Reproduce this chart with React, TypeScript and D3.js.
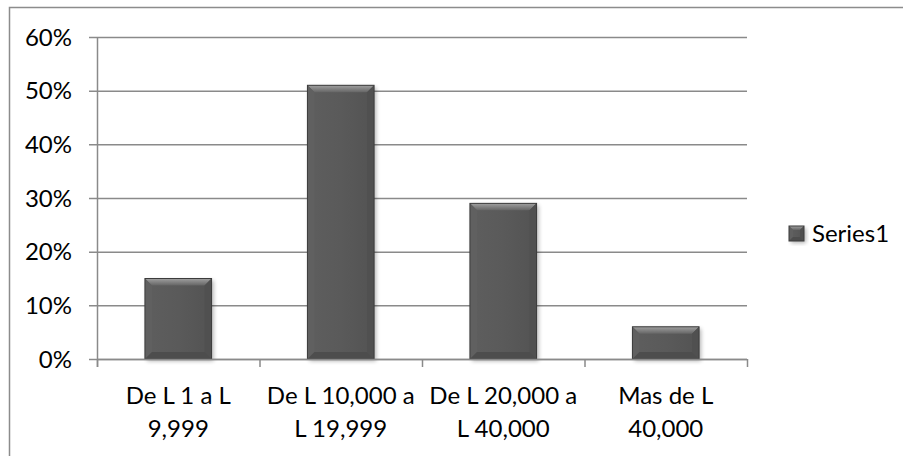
import React from "react";
import * as d3 from "d3";

const categories: string[][] = [
  ["De L 1 a L", "9,999"],
  ["De L 10,000 a", "L 19,999"],
  ["De L 20,000 a", "L 40,000"],
  ["Mas de L", "40,000"],
];
const values: number[] = [0.15, 0.51, 0.29, 0.06];
const yTicks: number[] = [0, 0.1, 0.2, 0.3, 0.4, 0.5, 0.6];
const seriesName = "Series1";

const W = 903;
const H = 456;
const FONT = "Lato, 'Open Sans', sans-serif";
const FS = 24;

function Bar({ x, y, w, h, b, id }: { x: number; y: number; w: number; h: number; b: number; id: string }) {
  const bb = Math.min(b, h / 2, w / 2);
  return (
    <g>
      <defs>
        <linearGradient id={`top-${id}`} x1="0" y1="0" x2="0" y2="1">
          <stop offset="0" stopColor="#a0a0a0" />
          <stop offset="1" stopColor="#656565" />
        </linearGradient>
        <linearGradient id={`body-${id}`} x1="0" y1="0" x2="1" y2="0">
          <stop offset="0" stopColor="#5e5e5e" />
          <stop offset="0.5" stopColor="#5a5a5a" />
          <stop offset="1" stopColor="#535353" />
        </linearGradient>
      </defs>
      <rect x={x + 2} y={y + 2} width={w} height={h} fill="#000" opacity={0.3} filter="url(#shadow)" />
      <rect x={x} y={y} width={w} height={h} fill={`url(#body-${id})`} />
      <polygon
        points={`${x},${y} ${x + w},${y} ${x + w - bb},${y + bb} ${x + bb},${y + bb}`}
        fill={`url(#top-${id})`}
      />
      <polygon
        points={`${x},${y} ${x + bb},${y + bb} ${x + bb},${y + h - bb} ${x},${y + h}`}
        fill="#606060"
      />
      <polygon
        points={`${x + w},${y} ${x + w - bb},${y + bb} ${x + w - bb},${y + h - bb} ${x + w},${y + h}`}
        fill="#505050"
      />
      <polygon
        points={`${x},${y + h} ${x + bb},${y + h - bb} ${x + w - bb},${y + h - bb} ${x + w},${y + h}`}
        fill="#4d4d4d"
      />
      <rect x={x} y={y} width={w} height={h} fill="none" stroke="#3c3c3c" strokeWidth={1} />
    </g>
  );
}

export default function App() {
  const left = 97;
  const right = 747;
  const top = 37;
  const bottom = 359;

  const x = d3
    .scaleBand<number>()
    .domain(d3.range(categories.length))
    .range([left, right])
    .paddingInner(0.59)
    .paddingOuter(0.295);
  const xb = d3.scaleBand<number>().domain(d3.range(categories.length)).range([left, right]);
  const y = d3.scaleLinear().domain([0, 0.6]).range([bottom, top]);
  const fmt = d3.format(".0%");

  return (
    <svg width={W} height={H} style={{ position: "absolute", left: 0, top: 0 }} fontFamily={FONT}>
      <defs>
        <filter id="shadow" x="-20%" y="-20%" width="140%" height="140%">
          <feGaussianBlur stdDeviation="2" />
        </filter>
      </defs>
      <rect x={0} y={0} width={W} height={H} fill="#fff" />
      <path d={`M9.5,${H + 5} V7.5 H${W + 5}`} fill="none" stroke="#8c8c8c" strokeWidth={1.5} />

      {yTicks.map((t) => (
        <g key={t}>
          <line x1={left - 8} x2={right} y1={y(t) + 0.5} y2={y(t) + 0.5} stroke="#8a8a8a" strokeWidth={1.5} />
          <text x={72} y={y(t) + 8.5} textAnchor="end" fontSize={FS} fill="#000">
            {fmt(t)}
          </text>
        </g>
      ))}

      {values.map((v, i) => (
        <Bar key={i} id={String(i)} x={x(i)!} y={y(v)} w={x.bandwidth()} h={bottom - y(v)} b={7} />
      ))}

      <line x1={left + 0.5} x2={left + 0.5} y1={top} y2={bottom + 8} stroke="#8a8a8a" strokeWidth={1.5} />
      <line x1={left} x2={right} y1={bottom + 0.5} y2={bottom + 0.5} stroke="#8a8a8a" strokeWidth={1.5} />
      {d3.range(categories.length + 1).map((i) => {
        const px = i < categories.length ? xb(i)! : right;
        return <line key={i} x1={px + 0.5} x2={px + 0.5} y1={bottom} y2={bottom + 8} stroke="#8a8a8a" strokeWidth={1.5} />;
      })}

      {categories.map((lines, i) => (
        <text key={i} x={xb(i)! + xb.bandwidth() / 2} textAnchor="middle" fontSize={FS} fill="#000">
          {lines.map((l, j) => (
            <tspan key={j} x={xb(i)! + xb.bandwidth() / 2} y={404 + j * 33}>
              {l}
            </tspan>
          ))}
        </text>
      ))}

      <Bar id="leg" x={789} y={226} w={15} h={15} b={4} />
      <text x={812} y={242} fontSize={FS} fill="#000">
        {seriesName}
      </text>
    </svg>
  );
}
